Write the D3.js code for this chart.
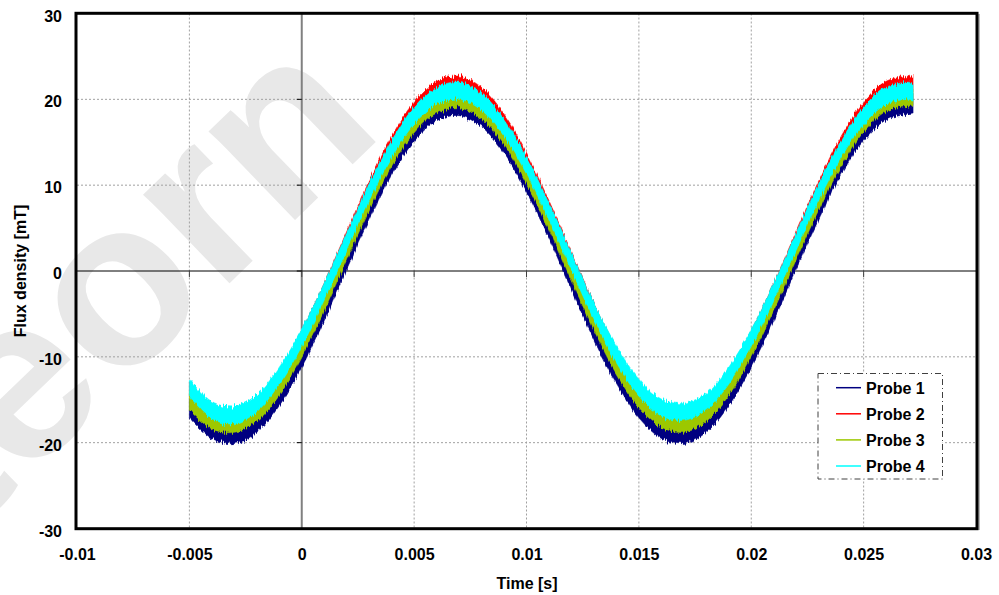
<!DOCTYPE html>
<html>
<head>
<meta charset="utf-8">
<script src="https://cdn.jsdelivr.net/npm/d3@7"></script>
<style>
body { margin: 0; background: #fff; }
text { font-family: "Liberation Sans", Arial, sans-serif; font-weight: bold; }
</style>
</head>
<body>
<svg id="chart" width="999" height="595"></svg>
<script>
// Sample times [s] and probe readings [mT] (centre of each noisy band)
var timeValues = [-0.005, -0.004, -0.003, -0.002, -0.001, 0, 0.001, 0.002, 0.003, 0.004,
                  0.005, 0.006, 0.007, 0.008, 0.009, 0.010, 0.011, 0.012, 0.013, 0.014,
                  0.015, 0.016, 0.017, 0.018, 0.019, 0.020, 0.021, 0.022, 0.023, 0.024,
                  0.025, 0.026, 0.027, 0.0272];
var probe1 = [-16.0, -18.4, -19.0, -17.7, -14.6, -10.1, -4.7, 1.3, 7.1, 12.3,
              16.2, 18.6, 19.2, 17.9, 14.8, 10.3, 4.9, -1.1, -6.9, -12.1,
              -16.0, -18.4, -19.0, -17.7, -14.6, -10.1, -4.7, 1.3, 7.1, 12.3,
              16.3, 18.7, 19.4, 19.5];
var probe2 = [-13.8, -16.2, -16.8, -15.5, -12.4, -7.8, -2.3, 3.7, 9.6, 14.8,
              18.8, 21.2, 21.8, 20.5, 17.4, 12.8, 7.3, 1.3, -4.6, -9.8,
              -13.8, -16.2, -16.8, -15.5, -12.4, -7.8, -2.3, 3.7, 9.6, 14.8,
              18.8, 21.2, 21.8, 21.7];
var probe3 = [-15.2, -17.4, -17.8, -16.5, -13.5, -9.0, -3.6, 2.3, 8.1, 13.2,
              17.1, 19.4, 20.0, 18.7, 15.7, 11.2, 5.8, -0.1, -5.9, -11.0,
              -14.9, -17.2, -17.8, -16.5, -13.5, -9.0, -3.6, 2.3, 8.1, 13.2,
              17.2, 19.6, 20.2, 20.3];
var probe4 = [-13.6, -16.2, -16.8, -15.4, -12.2, -7.8, -2.4, 3.4, 9.2, 14.2,
              18.1, 20.4, 21.0, 19.7, 16.7, 12.3, 6.9, 1.1, -4.7, -9.7,
              -13.6, -15.9, -16.4, -15.2, -12.2, -7.8, -2.4, 3.4, 9.2, 14.2,
              18.1, 20.4, 21.0, 20.9];
// half height of the noise band of each probe [mT]
var probeNoise = [1.1, 0.9, 1.0, 1.0];
var probeNames = ['Probe 1', 'Probe 2', 'Probe 3', 'Probe 4'];
var probeColors = ['#000080', '#ff0000', '#9cc800', '#00ffff'];

var xTicks = [-0.01, -0.005, 0, 0.005, 0.01, 0.015, 0.02, 0.025, 0.03];
var xTickLabels = ['-0.01', '-0.005', '0', '0.005', '0.01', '0.015', '0.02', '0.025', '0.03'];
var yTicks = [-30, -20, -10, 0, 10, 20, 30];
var yTickLabels = ['-30', '-20', '-10', '0', '10', '20', '30'];

var svg = d3.select('#chart');

var x = d3.scaleLinear().domain([-0.01, 0.03]).range([77, 976]);
var y = d3.scaleLinear().domain([-30, 30]).range([528.5, 13.5]);

// jagged edge for the noisy traces (vertical jitter only)
var defs = svg.append('defs');
var flt = defs.append('filter').attr('id', 'noisy')
    .attr('filterUnits', 'userSpaceOnUse')
    .attr('x', 0).attr('y', 0).attr('width', 999).attr('height', 595);
flt.append('feTurbulence')
    .attr('type', 'fractalNoise').attr('baseFrequency', '1.1 0.06')
    .attr('numOctaves', 2).attr('seed', 3).attr('result', 'turb');
flt.append('feColorMatrix')
    .attr('in', 'turb').attr('type', 'matrix')
    .attr('values', '0 0 0 0 0.5  0 1 0 0 0  0 0 1 0 0  0 0 0 0 1')
    .attr('result', 'map');
flt.append('feDisplacementMap')
    .attr('in', 'SourceGraphic').attr('in2', 'map')
    .attr('scale', 9).attr('xChannelSelector', 'R').attr('yChannelSelector', 'G');

// watermark behind everything
svg.append('text')
    .attr('transform', 'translate(386,132) rotate(-44)')
    .attr('text-anchor', 'end')
    .style('font-size', '234px')
    .style('fill', '#e8e8e8')
    .text('Steorn');

// dotted grid
svg.append('g').selectAll('line')
    .data(xTicks.filter(function(d) { return d !== 0 && d !== -0.01 && d !== 0.03; }))
    .enter().append('line')
        .attr('x1', function(d) { return x(d); })
        .attr('x2', function(d) { return x(d); })
        .attr('y1', y(30)).attr('y2', y(-30))
        .style('stroke', '#a0a0a0').style('stroke-dasharray', '2,2');
svg.append('g').selectAll('line')
    .data(yTicks.filter(function(d) { return d !== 0 && Math.abs(d) !== 30; }))
    .enter().append('line')
        .attr('y1', function(d) { return y(d); })
        .attr('y2', function(d) { return y(d); })
        .attr('x1', x(-0.01)).attr('x2', x(0.03))
        .style('stroke', '#a0a0a0').style('stroke-dasharray', '2,2');

// zero axes with small ticks
svg.append('line')
    .attr('x1', x(0)).attr('x2', x(0)).attr('y1', y(30)).attr('y2', y(-30))
    .style('stroke', '#808080').style('stroke-width', 2);
svg.append('line')
    .attr('x1', x(-0.01)).attr('x2', x(0.03)).attr('y1', y(0)).attr('y2', y(0))
    .style('stroke', '#000').style('stroke-width', 1);
svg.append('g').selectAll('line')
    .data(xTicks.slice(1, -1))
    .enter().append('line')
        .attr('x1', function(d) { return x(d); })
        .attr('x2', function(d) { return x(d); })
        .attr('y1', y(0)).attr('y2', y(0) + 6)
        .style('stroke', '#404040');
svg.append('g').selectAll('line')
    .data(yTicks.slice(1, -1))
    .enter().append('line')
        .attr('y1', function(d) { return y(d); })
        .attr('y2', function(d) { return y(d); })
        .attr('x1', x(0) - 5).attr('x2', x(0))
        .style('stroke', '#000');

// probe bands
var probeSeries = [probe1, probe2, probe3, probe4];
var area = d3.area()
    .x(function(d) { return x(d.t); })
    .y0(function(d) { return y(d.v - d.h); })
    .y1(function(d) { return y(d.v + d.h); })
    .curve(d3.curveCatmullRom);

var bands = svg.append('g').attr('filter', 'url(#noisy)');
probeSeries.forEach(function(values, i) {
    var pts = timeValues.map(function(t, k) { return { t: t, v: values[k], h: probeNoise[i] }; });
    bands.append('path')
        .datum(pts)
        .attr('d', area)
        .style('fill', probeColors[i])
        .style('stroke', probeColors[i])
        .style('stroke-opacity', 0.5)
        .style('stroke-width', 1);
});

// plot frame
svg.append('line')
    .attr('x1', 979).attr('x2', 979).attr('y1', 14).attr('y2', 530)
    .style('stroke', '#a0a0a0').style('stroke-width', 1.5);
svg.append('rect')
    .attr('x', 76).attr('y', 13.3).attr('width', 901).attr('height', 515.4)
    .style('fill', 'none').style('stroke', '#000').style('stroke-width', 3);

// axes labels
var xAxis = d3.axisBottom(x).tickValues(xTicks)
    .tickFormat(function(d, i) { return xTickLabels[i]; })
    .tickSize(0).tickPadding(0);
svg.append('g').attr('transform', 'translate(0,548)').call(xAxis)
    .call(function(g) { g.select('.domain').remove(); })
    .selectAll('text')
        .attr('dy', '0.72em')
        .style('font-size', '16px').style('fill', '#000')
        .style('font-family', '"Liberation Sans", Arial, sans-serif');

var yAxis = d3.axisLeft(y).tickValues(yTicks)
    .tickFormat(function(d, i) { return yTickLabels[i]; })
    .tickSize(0).tickPadding(0);
svg.append('g').attr('transform', 'translate(62,0)').call(yAxis)
    .call(function(g) { g.select('.domain').remove(); })
    .selectAll('text')
        .attr('dy', '0.47em')
        .style('font-size', '16px').style('fill', '#000')
        .style('font-family', '"Liberation Sans", Arial, sans-serif');

svg.append('text')
    .attr('x', 527).attr('y', 589)
    .attr('text-anchor', 'middle')
    .style('font-size', '16px')
    .text('Time [s]');
svg.append('text')
    .attr('transform', 'translate(25.5,271) rotate(-90)')
    .attr('text-anchor', 'middle')
    .style('font-size', '16px')
    .text('Flux density [mT]');

// legend
var legend = svg.append('g');
legend.append('rect')
    .attr('x', 818).attr('y', 373.5).attr('width', 124.5).attr('height', 105.5)
    .style('fill', '#fff').style('stroke', '#404040')
    .style('stroke-dasharray', '6,3,1,3');
probeNames.forEach(function(name, i) {
    var cy = 387.7 + i * 26.1;
    legend.append('line')
        .attr('x1', 836).attr('x2', 861).attr('y1', cy).attr('y2', cy)
        .style('stroke', probeColors[i]).style('stroke-width', 1.5);
    legend.append('text')
        .attr('x', 866).attr('y', cy + 5.8)
        .style('font-size', '16px')
        .text(name);
});
</script>
</body>
</html>
